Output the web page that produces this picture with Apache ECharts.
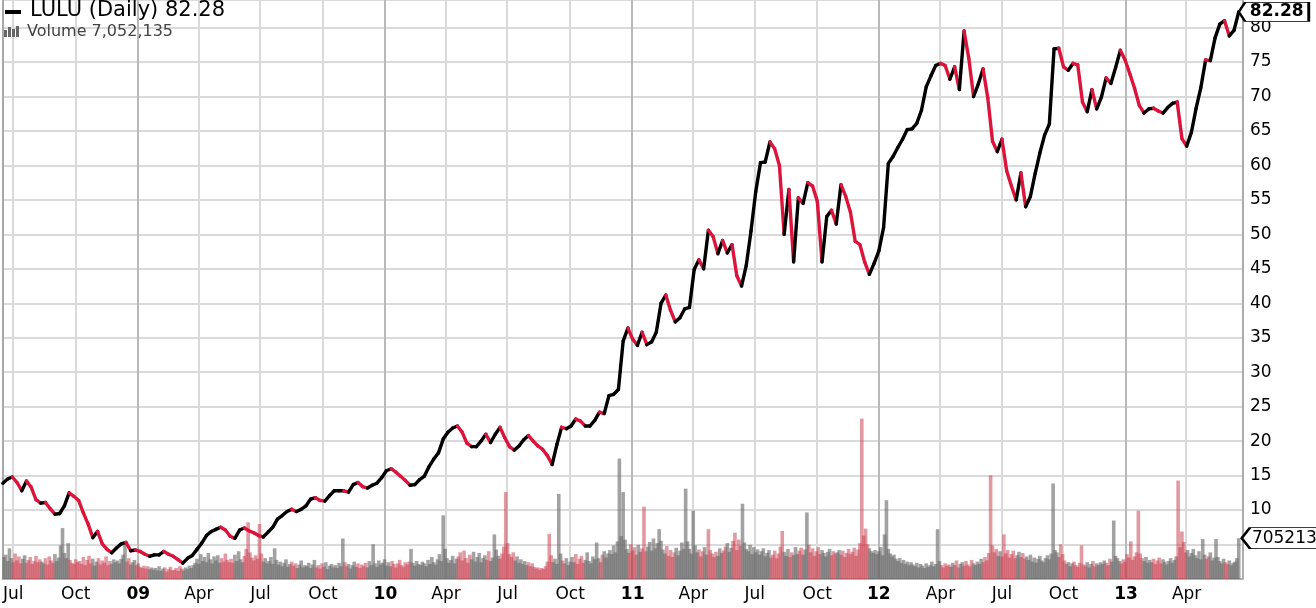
<!DOCTYPE html>
<html><head><meta charset="utf-8">
<script src="https://cdn.jsdelivr.net/npm/echarts@6/dist/echarts.min.js"></script>
<style>html,body{margin:0;padding:0;background:#fff;}#c{width:1316px;height:608px;}</style>
</head><body><div id="c"></div>
<script>
// ---------- data ----------
const symbolName = 'LULU';
const periodName = 'Daily';
const lastClose = 82.28;
const lastVolume = 7052135;
const firstDay = '2008-06-16';          // first trading day shown
const tradingDays = 1310;               // weekdays on the axis
const closeStep = 5;                    // one close read every 5 trading days
const volumeStep = 2;                   // one volume bar read every 2 trading days
const volumeOffset = 1;
const monthNames = ['Jan','Feb','Mar','Apr','May','Jun','Jul','Aug','Sep','Oct','Nov','Dec'];
const tickMonths = [0, 3, 6, 9];
const priceTicks = [5,10,15,20,25,30,35,40,45,50,55,60,65,70,75,80];

const closes = [
13.9,14.5,14.8,14.0,12.8,14.2,13.3,11.5,11.0,11.1,
10.2,9.4,9.5,10.6,12.5,12.0,11.4,9.6,8.0,6.0,
6.9,5.1,4.3,3.8,4.5,5.1,5.3,4.1,4.2,4.0,
3.6,3.3,3.5,3.5,4.0,3.6,3.3,2.8,2.3,3.0,
3.4,4.3,5.2,6.3,6.9,7.2,7.5,7.1,6.2,5.9,
7.1,7.4,7.0,6.7,6.3,6.1,6.8,7.5,8.7,9.2,
9.8,10.1,9.8,10.1,10.6,11.6,11.8,11.4,11.3,12.1,
12.8,12.8,12.8,12.6,13.7,14.0,13.4,13.2,13.6,13.9,
14.7,15.7,16.0,15.5,14.9,14.3,13.6,13.7,14.4,14.9,
16.3,17.4,18.3,20.3,21.3,21.9,22.2,21.3,19.7,19.2,
19.2,20.0,21.0,19.8,21.0,22.0,20.5,19.2,18.7,19.3,
20.2,20.8,20.0,19.3,18.8,17.9,16.6,19.5,22.0,21.8,
22.2,23.2,22.9,22.2,22.2,23.0,24.2,24.0,26.6,26.8,
27.5,34.5,36.4,34.8,33.9,35.8,34.0,34.4,35.8,40.0,
41.2,39.0,37.3,37.9,39.2,39.4,44.9,46.3,45.0,50.6,
49.7,47.2,49.1,47.3,48.5,44.0,42.5,45.5,50.5,56.2,
60.4,60.5,63.4,62.4,60.0,50.0,56.5,46.0,55.3,54.5,
57.5,57.0,54.8,46.0,52.6,53.5,51.5,57.2,55.5,53.2,
49.0,48.5,46.0,44.2,45.8,47.6,51.0,60.3,61.3,62.6,
63.8,65.2,65.3,66.1,68.0,71.4,73.0,74.5,74.8,74.5,
72.5,74.3,71.0,79.5,75.5,70.0,71.8,74.0,69.8,63.5,
62.0,63.8,59.2,57.0,55.0,58.9,54.0,55.5,58.8,61.8,
64.4,66.0,76.9,77.0,74.3,73.8,74.8,74.6,69.2,67.8,
71.0,68.2,69.9,72.7,71.9,74.2,76.7,75.3,73.3,71.2,
68.7,67.6,68.2,68.3,67.9,67.6,68.4,69.0,69.2,63.9,
62.8,64.8,68.3,71.3,75.3,75.2,78.5,80.5,81.0,78.8,
79.6,82.28
];

// volume in millions of shares
const volumes = [
3.8,4.2,3.1,5.3,3.6,2.9,4.4,3.2,3.9,2.7,3.5,4.1,2.8,3.3,3.8,2.6,3.1,4.0,2.9,3.4,
3.0,2.7,3.6,2.5,3.9,3.2,2.8,4.3,3.1,3.7,5.8,8.8,4.5,3.6,6.2,3.3,2.8,2.6,3.4,2.9,
3.1,2.6,3.8,2.4,3.3,4.0,2.7,3.5,2.3,3.0,3.6,2.5,3.2,2.8,3.9,2.4,3.1,2.6,3.4,2.9,
3.2,2.7,3.5,4.2,6.4,3.0,3.6,2.5,2.9,3.3,2.4,2.7,2.1,1.9,2.3,1.8,2.2,1.7,2.0,1.6,
1.9,1.5,2.2,1.4,1.8,2.0,1.3,1.7,2.1,1.5,1.6,1.9,1.4,2.2,1.8,1.5,2.0,1.7,2.3,1.9,
2.4,2.8,3.5,2.6,4.3,3.1,3.8,2.9,4.5,3.4,2.7,3.9,3.2,4.1,2.8,3.6,3.0,4.4,3.3,2.9,
3.5,2.8,4.2,3.1,4.8,3.4,2.9,4.0,5.2,9.8,4.6,3.7,3.2,4.1,3.5,9.5,4.4,3.0,3.6,2.7,
3.1,3.8,2.6,5.3,3.3,2.5,3.0,2.2,2.8,3.4,2.1,2.6,3.0,2.3,2.7,1.9,2.5,3.2,2.0,2.4,
2.2,2.8,1.9,2.5,3.3,2.0,2.4,1.8,2.7,2.1,2.9,1.7,2.3,2.6,2.0,2.4,1.9,2.8,2.2,7.0,
2.9,2.2,2.6,1.8,2.4,3.0,2.1,2.7,1.9,2.5,2.2,2.8,2.0,3.1,2.4,6.0,2.7,2.1,3.2,2.5,
2.8,3.4,2.3,2.9,2.2,3.1,2.6,2.0,2.7,3.3,2.4,2.1,2.9,2.5,3.0,5.2,2.8,2.3,3.1,2.6,
2.4,3.0,2.7,2.2,3.3,2.6,3.8,2.9,2.5,3.4,4.3,3.1,11.0,5.2,3.6,2.8,3.3,4.0,2.7,3.5,
3.9,4.6,3.2,4.9,3.6,2.8,4.2,3.4,4.7,3.0,3.8,4.5,2.9,3.6,4.1,3.3,4.8,3.1,3.7,7.7,
5.1,4.0,3.5,4.4,5.6,15.0,6.2,4.3,3.8,4.6,3.2,3.9,2.8,3.4,2.6,3.1,2.4,2.9,2.2,2.7,
2.1,1.8,2.0,1.6,1.9,1.7,2.2,3.0,7.8,4.1,2.9,3.5,2.6,14.7,4.4,3.2,2.7,3.6,2.4,3.0,
3.8,2.9,4.3,2.6,3.5,4.0,2.8,3.3,4.6,3.1,2.7,3.9,3.4,6.3,3.6,2.9,4.2,4.8,3.7,4.4,
5.0,4.3,5.8,4.6,6.5,20.8,7.4,15.0,6.8,5.2,4.5,6.0,4.9,5.5,4.2,5.9,4.7,5.3,12.5,4.8,
5.6,6.4,4.9,7.0,5.3,6.2,8.6,6.6,5.1,4.4,5.7,4.0,5.0,3.8,4.6,5.4,4.1,4.9,6.3,5.2,
15.6,6.5,5.2,4.4,11.8,5.8,4.6,5.1,3.9,4.8,5.5,4.2,8.6,5.0,4.4,3.8,4.7,4.0,5.3,4.5,
4.9,5.6,6.2,4.7,5.4,6.6,8.0,5.0,6.8,5.7,13.0,6.3,5.2,4.8,5.9,4.3,5.5,4.6,5.1,4.2,
4.8,5.3,3.9,4.5,5.0,3.7,4.2,4.9,3.6,4.4,5.6,8.3,4.7,4.0,5.2,3.8,4.6,4.1,5.5,4.3,
4.9,5.4,4.2,5.1,11.5,5.9,4.6,5.3,4.0,4.8,5.5,4.3,5.0,4.5,3.9,4.7,5.2,4.1,4.8,4.4,
4.6,5.0,4.2,4.9,3.8,4.5,5.2,4.3,4.7,5.4,4.0,5.1,6.2,27.7,7.5,8.7,6.0,5.3,4.8,4.5,
5.0,4.3,4.8,5.5,4.1,7.7,13.6,5.2,4.4,3.9,4.2,3.5,3.1,3.6,2.8,3.3,2.6,3.0,2.4,2.9,
2.5,2.2,2.8,2.0,2.6,2.3,1.9,2.7,2.1,2.4,3.0,2.2,2.6,8.6,3.1,2.4,2.0,2.7,2.3,2.5,
2.1,2.8,2.4,3.2,2.0,2.6,2.9,2.3,3.1,2.5,2.2,3.3,2.7,2.4,3.0,2.6,3.5,2.9,3.8,3.2,
4.5,17.9,5.8,4.6,5.2,4.0,4.8,3.9,7.7,4.4,5.0,3.7,4.3,4.9,3.6,4.1,4.7,3.8,4.5,3.5,
3.9,3.3,4.2,3.0,3.7,2.8,3.5,4.0,3.2,2.9,3.6,4.1,3.4,4.4,16.5,5.0,4.6,3.8,6.0,4.3,
3.2,2.6,2.9,2.2,2.7,3.0,2.4,2.1,2.8,5.8,2.5,2.3,2.9,2.0,2.6,3.1,2.2,2.7,2.4,2.9,
2.6,3.2,2.8,2.4,3.5,3.0,10.1,4.0,3.6,3.1,2.7,3.4,3.0,4.3,3.7,6.5,3.3,3.9,4.6,11.8,
4.4,3.6,3.1,3.8,2.8,3.3,2.9,3.5,2.6,3.2,3.7,2.7,3.4,3.0,2.5,3.1,3.6,2.8,3.3,3.9,
17.0,5.5,8.2,6.4,4.6,5.0,3.9,4.5,5.2,4.1,3.6,4.8,3.4,6.9,4.2,3.5,3.9,4.6,3.2,3.7,
6.9,3.8,3.1,2.7,3.5,2.9,2.6,3.2,2.4,2.8,3.0,3.6,7.05
];

// ---------- styles ----------
const upColor = '#000000';
const downColor = '#dc143c';
const volUpColor = 'rgba(105,105,105,0.62)';
const volDownColor = 'rgba(200,60,75,0.52)';
const gridColor = '#dadada';
const yearGridColor = '#b9b9b9';
const borderColor = '#a8a8a8';
const font = '"DejaVu Sans", Verdana, sans-serif';

// ---------- categories (weekdays) ----------
const dates = [];
(function () {
  const p = firstDay.split('-').map(Number);
  let d = new Date(Date.UTC(p[0], p[1] - 1, p[2]));
  while (dates.length < tradingDays) {
    const wd = d.getUTCDay();
    if (wd !== 0 && wd !== 6) dates.push(d.toISOString().slice(0, 10));
    d = new Date(d.getTime() + 86400000);
  }
})();
const monthOf = i => +dates[i].slice(5, 7) - 1;
const isQuarterStart = i => i > 0 && tickMonths.indexOf(monthOf(i)) >= 0 && monthOf(i) !== monthOf(i - 1);
const isYearStart = i => i > 0 && monthOf(i) === 0 && monthOf(i - 1) !== 0;

// ---------- series data ----------
const closeIndex = k => k * closeStep;
const segments = closes.slice(1).map((v, k) => [closeIndex(k), closes[k], closeIndex(k + 1), v]);
const lastIdx = closeIndex(closes.length - 1);
const volData = volumes.map((v, j) => {
  const idx = j * volumeStep + volumeOffset;
  let k = Math.floor(idx / closeStep);
  if (k >= closes.length - 1) k = closes.length - 2;
  const down = closes[k + 1] < closes[k];
  return { value: [idx, v], itemStyle: { color: down ? volDownColor : volUpColor } };
});

const tagPath = 'path://M0,10L9,0L100,0L100,20L9,20Z';
const fmtInt = n => String(n).replace(/\B(?=(\d{3})+(?!\d))/g, ',');

const chart = echarts.init(document.getElementById('c'), null, { renderer: 'canvas' });
chart.setOption({
  animation: false,
  backgroundColor: '#ffffff',
  grid: { left: 2, right: 73, top: 0, bottom: 29, containLabel: false },
  xAxis: [{
    type: 'category', data: dates, boundaryGap: true, position: 'bottom',
    axisLine: { show: true, lineStyle: { color: borderColor, width: 1.5 } },
    axisTick: { show: false },
    axisLabel: {
      interval: i => isQuarterStart(i), margin: 7, color: '#000', fontFamily: font, fontSize: 17,
      formatter: v => { const m = +v.slice(5, 7) - 1; return m === 0 ? '{y|' + v.slice(2, 4) + '}' : monthNames[m]; },
      rich: { y: { fontWeight: 'bold', fontSize: 17, fontFamily: font, color: '#000' } }
    },
    splitLine: { show: true, interval: i => isQuarterStart(i), lineStyle: { color: gridColor, width: 2 } }
  }, {
    type: 'category', data: dates, boundaryGap: true, position: 'top',
    axisLine: { show: false }, axisTick: { show: false }, axisLabel: { show: false },
    splitLine: { show: true, interval: i => isYearStart(i), lineStyle: { color: yearGridColor, width: 2 } }
  }],
  yAxis: [{
    type: 'value', position: 'right', min: 0, max: 84, interval: 5,
    axisLine: { show: true, lineStyle: { color: borderColor, width: 1.5 } },
    axisTick: { show: false },
    axisLabel: { margin: 7, color: '#000', fontFamily: font, fontSize: 17,
      formatter: v => (priceTicks.indexOf(v) >= 0 ? String(v) : '') },
    splitLine: { show: true, lineStyle: { color: gridColor, width: 2 } }
  }, {
    type: 'value', position: 'left', min: 0, max: 100,
    axisLine: { show: true, lineStyle: { color: borderColor, width: 2 } },
    axisTick: { show: false }, axisLabel: { show: false }, splitLine: { show: false }
  }],
  series: [{
    type: 'bar', name: 'Volume', xAxisIndex: 0, yAxisIndex: 1,
    data: volData, barWidth: 3.6, barGap: '-100%', z: 2
  }, {
    type: 'custom', name: symbolName, xAxisIndex: 0, yAxisIndex: 0, z: 3,
    data: segments, encode: { x: [0, 2], y: [1, 3] },
    renderItem: function (params, api) {
      const a = api.coord([api.value(0), api.value(1)]);
      const b = api.coord([api.value(2), api.value(3)]);
      return { type: 'line', shape: { x1: a[0], y1: a[1], x2: b[0], y2: b[1] },
        style: { stroke: api.value(3) < api.value(1) ? downColor : upColor, lineWidth: 3.4, lineCap: 'round' } };
    }
  }, {
    type: 'scatter', xAxisIndex: 0, yAxisIndex: 0, z: 10, clip: false, silent: true,
    data: [[lastIdx, lastClose]],
    symbol: tagPath, symbolSize: [70, 19], symbolOffset: [35, 0],
    itemStyle: { color: '#fff', borderColor: '#000', borderWidth: 1.5, opacity: 1 },
    label: { show: true, position: 'inside', formatter: () => lastClose.toFixed(2), color: '#000',
      fontFamily: font, fontSize: 17, fontWeight: 'bold', offset: [3, 0] }
  }, {
    type: 'scatter', xAxisIndex: 0, yAxisIndex: 1, z: 10, clip: false, silent: true,
    data: [[lastIdx, lastVolume / 1e6]],
    symbol: tagPath, symbolSize: [92, 21], symbolOffset: [49, 0],
    itemStyle: { color: '#fff', borderColor: '#000', borderWidth: 1.5, opacity: 1 },
    label: { show: true, position: 'inside', formatter: () => String(lastVolume), color: '#000',
      fontFamily: font, fontSize: 17, offset: [2, 0] }
  }],
  graphic: [
    { type: 'rect', z: 100, left: 5, top: 10, shape: { width: 16, height: 4 }, style: { fill: '#000' } },
    { type: 'text', z: 100, left: 30, top: 0, style: { text: symbolName + ' (' + periodName + ') ' + lastClose.toFixed(2), font: '21px ' + font, fill: '#000' } },
    { type: 'rect', z: 100, left: 4, top: 30, shape: { width: 3, height: 7 }, style: { fill: '#666' } },
    { type: 'rect', z: 100, left: 8, top: 27, shape: { width: 3, height: 10 }, style: { fill: '#666' } },
    { type: 'rect', z: 100, left: 12, top: 29, shape: { width: 3, height: 8 }, style: { fill: '#666' } },
    { type: 'rect', z: 100, left: 16, top: 26, shape: { width: 3, height: 11 }, style: { fill: '#666' } },
    { type: 'text', z: 100, left: 27, top: 24, style: { text: 'Volume ' + fmtInt(lastVolume), font: '16px ' + font, fill: '#444' } }
  ]
});
</script></body></html>
